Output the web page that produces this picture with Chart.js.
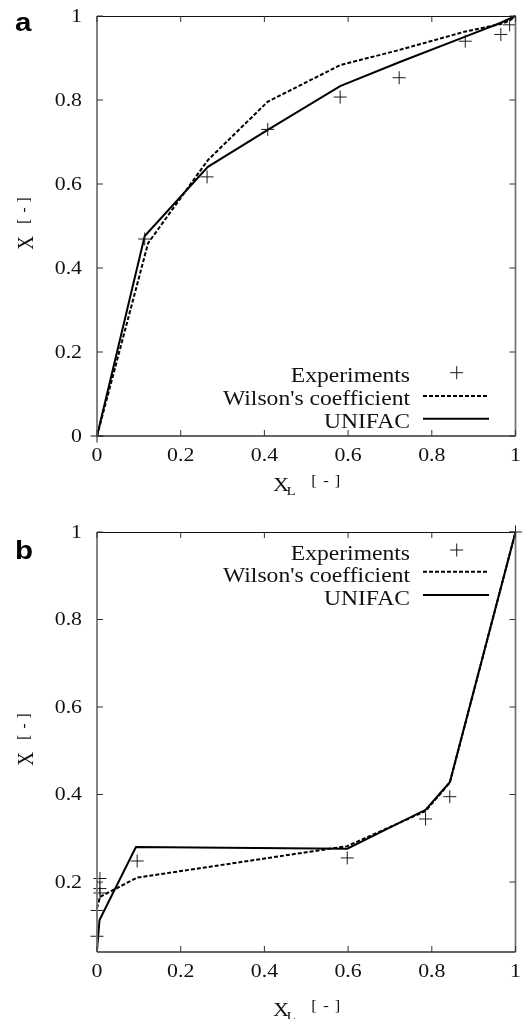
<!DOCTYPE html>
<html>
<head>
<meta charset="utf-8">
<script src="https://cdn.jsdelivr.net/npm/chart.js@4.4.1/dist/chart.umd.min.js"></script>
<style>
  html, body { margin: 0; padding: 0; background: #fff; }
  .panel { position: absolute; left: 0; width: 523px; }
  #wrapA { top: 0; height: 500px; }
  #wrapB { top: 500px; height: 519px; }
</style>
</head>
<body>
<div class="panel" id="wrapA"><canvas id="chartA" width="523" height="500"></canvas></div>
<div class="panel" id="wrapB"><canvas id="chartB" width="523" height="519"></canvas></div>
<script>
// panel a
const expAx = [0, 0.114, 0.263, 0.408, 0.581, 0.722, 0.880, 0.965, 0.986];
const expAy = [0, 0.469, 0.617, 0.730, 0.807, 0.853, 0.940, 0.956, 0.979];
const wilAx = [0, 0.122, 0.265, 0.408, 0.581, 0.722, 0.880, 0.965, 0.986, 1];
const wilAy = [0, 0.459, 0.657, 0.796, 0.883, 0.919, 0.963, 0.981, 0.989, 1];
const uniAx = [0, 0.114, 0.265, 0.408, 0.581, 0.722, 0.880, 0.965, 1];
const uniAy = [0, 0.476, 0.641, 0.729, 0.833, 0.890, 0.951, 0.984, 1];

// panel b
const expBx = [0, 0, 0.007, 0.007, 0.007, 0.096, 0.598, 0.785, 0.843, 1];
const expBy = [0.076, 0.135, 0.175, 0.185, 0.208, 0.248, 0.255, 0.344, 0.395, 1];
const wilBx = [0, 0.007, 0.096, 0.598, 0.785, 0.843, 1];
const wilBy = [0.140, 0.166, 0.210, 0.282, 0.362, 0.427, 1];
const uniBx = [0, 0.006, 0.093, 0.598, 0.785, 0.843, 1];
const uniBy = [0.044, 0.113, 0.280, 0.276, 0.365, 0.428, 1];

const xTicks = [0, 0.2, 0.4, 0.6, 0.8, 1];
const yTicksA = [0, 0.2, 0.4, 0.6, 0.8, 1];
const yTicksB = [0.2, 0.4, 0.6, 0.8, 1];
const legendNames = ["Experiments", "Wilson's coefficient", "UNIFAC"];

const STRETCH = 1.18;
const SERIF = '"Liberation Serif", "Times New Roman", serif';
const SANS = '"Liberation Sans", Arial, sans-serif';

function pts(xs, ys) {
  return xs.map((x, i) => ({ x, y: ys[i] }));
}

// text is drawn a bit wider than the font's natural width
function txt(ctx, s, x, y, size, align, opts = {}) {
  ctx.save();
  ctx.translate(x, y);
  ctx.scale(STRETCH, 1);
  if (opts.rot) ctx.rotate(opts.rot);
  ctx.font = (opts.weight || "") + " " + size + "px " + (opts.family || SERIF);
  ctx.textAlign = align;
  ctx.textBaseline = opts.base || "alphabetic";
  ctx.fillStyle = opts.color || "#111";
  ctx.fillText(s, 0, 0);
  ctx.restore();
}

function seg(ctx, x1, y1, x2, y2) {
  ctx.beginPath();
  ctx.moveTo(x1, y1);
  ctx.lineTo(x2, y2);
  ctx.stroke();
}

function decor(cfg) {
  return {
    id: "decor",
    afterDraw(chart) {
      const { ctx, chartArea: a, scales: { x, y } } = chart;
      ctx.save();

      // frame
      ctx.strokeStyle = "#777";
      ctx.lineWidth = 1.8;
      seg(ctx, a.left, a.top, a.left, a.bottom);
      seg(ctx, a.right, a.top, a.right, a.bottom);
      ctx.strokeStyle = "#333";
      ctx.lineWidth = 1.3;
      seg(ctx, a.left, a.bottom, a.right, a.bottom);
      ctx.strokeStyle = "#111";
      ctx.lineWidth = 1;
      seg(ctx, a.left, a.top + 0.5, a.right, a.top + 0.5);

      // inward ticks + labels
      ctx.strokeStyle = "#333";
      ctx.lineWidth = 1;
      x.ticks.forEach((t) => {
        const px = x.getPixelForValue(t.value);
        seg(ctx, px, a.bottom, px, a.bottom - 6);
        seg(ctx, px, a.top, px, a.top + 6);
        txt(ctx, String(t.value), px, a.bottom + 20.5, 18.5, "center", { base: "middle" });
      });
      y.ticks.forEach((t) => {
        const py = y.getPixelForValue(t.value);
        seg(ctx, a.left, py, a.left + 6, py);
        seg(ctx, a.right, py, a.right - 6, py);
        txt(ctx, String(t.value), a.left - 15, py + 1, 18.5, "right", { base: "middle" });
      });

      // x title: X_L [-]
      const xb = cfg.xTitleBase;
      txt(ctx, "X", 273, xb, 19, "left");
      txt(ctx, "L", 286.5, xb + 4, 13, "left");
      txt(ctx, "[", 314, xb - 6, 14, "center");
      txt(ctx, "-", 326, xb - 6, 15, "center");
      txt(ctx, "]", 337.5, xb - 6, 14, "center");

      // y title: X [-], rotated
      const yc = cfg.yTitleCenter;
      const rot = -Math.PI / 2;
      txt(ctx, "X", 33, yc, 19, "center", { rot });
      txt(ctx, "[", 29, yc - 21.5, 14, "center", { rot });
      txt(ctx, "-", 29, yc - 33, 15, "center", { rot });
      txt(ctx, "]", 29, yc - 43, 14, "center", { rot });

      // legend
      const lb = cfg.legendBase;
      legendNames.forEach((name, i) => txt(ctx, name, 410, lb[i], 20, "right"));
      const off = cfg.legendOff;
      ctx.strokeStyle = "#1a1a1a";
      ctx.lineWidth = 1;
      seg(ctx, 450.2, lb[0] - off, 463.2, lb[0] - off);
      seg(ctx, 456.7, lb[0] - off - 6.5, 456.7, lb[0] - off + 6.5);
      ctx.strokeStyle = "#000";
      ctx.lineWidth = 2;
      ctx.setLineDash([4, 2]);
      seg(ctx, 423, lb[1] - off, 489, lb[1] - off);
      ctx.setLineDash([]);
      seg(ctx, 423, lb[2] - off, 489, lb[2] - off);

      // panel letter
      txt(ctx, cfg.letter, 15, cfg.letterBase, 25, "left", { weight: "bold", family: SANS, color: "#000" });

      ctx.restore();
    },
  };
}

function makeChart(id, cfg) {
  return new Chart(document.getElementById(id), {
    type: "scatter",
    data: {
      datasets: [
        {
          label: legendNames[0],
          data: pts(cfg.expX, cfg.expY),
          showLine: false,
          pointStyle: "cross",
          pointRadius: 6.5,
          pointBorderColor: "#1a1a1a",
          pointBackgroundColor: "#1a1a1a",
          pointBorderWidth: 1,
          clip: false,
        },
        {
          label: legendNames[1],
          data: pts(cfg.wilX, cfg.wilY),
          showLine: true,
          borderColor: "#000",
          borderWidth: 2,
          borderDash: [4, 2],
          pointRadius: 0,
          tension: 0,
          clip: false,
        },
        {
          label: legendNames[2],
          data: pts(cfg.uniX, cfg.uniY),
          showLine: true,
          borderColor: "#000",
          borderWidth: 2,
          pointRadius: 0,
          tension: 0,
          clip: false,
        },
      ],
    },
    options: {
      responsive: false,
      animation: false,
      devicePixelRatio: 1,
      layout: { padding: { left: 0, right: 6, top: cfg.padTop, bottom: 0 } },
      plugins: { legend: { display: false }, tooltip: { enabled: false } },
      scales: {
        x: {
          type: "linear",
          min: 0,
          max: 1,
          ticks: { display: false },
          grid: { display: false },
          border: { display: false },
          afterBuildTicks: (s) => { s.ticks = xTicks.map((v) => ({ value: v })); },
          afterFit: (s) => { s.height = cfg.xAxisH; },
        },
        y: {
          type: "linear",
          min: cfg.yMin,
          max: 1,
          ticks: { display: false },
          grid: { display: false },
          border: { display: false },
          afterBuildTicks: (s) => { s.ticks = cfg.yTicks.map((v) => ({ value: v })); },
          afterFit: (s) => { s.width = 97; },
        },
      },
    },
    plugins: [decor(cfg)],
  });
}

makeChart("chartA", {
  expX: expAx, expY: expAy, wilX: wilAx, wilY: wilAy, uniX: uniAx, uniY: uniAy,
  yMin: 0, yTicks: yTicksA, padTop: 16, xAxisH: 64,
  xTitleBase: 491, yTitleCenter: 243, legendBase: [381.7, 405, 427.7], legendOff: 9,
  letter: "a", letterBase: 31,
});

makeChart("chartB", {
  expX: expBx, expY: expBy, wilX: wilBx, wilY: wilBy, uniX: uniBx, uniY: uniBy,
  yMin: 0.04, yTicks: yTicksB, padTop: 32, xAxisH: 67,
  xTitleBase: 516, yTitleCenter: 259, legendBase: [60, 81.7, 105], legendOff: 10,
  letter: "b", letterBase: 59,
});
</script>
</body>
</html>
